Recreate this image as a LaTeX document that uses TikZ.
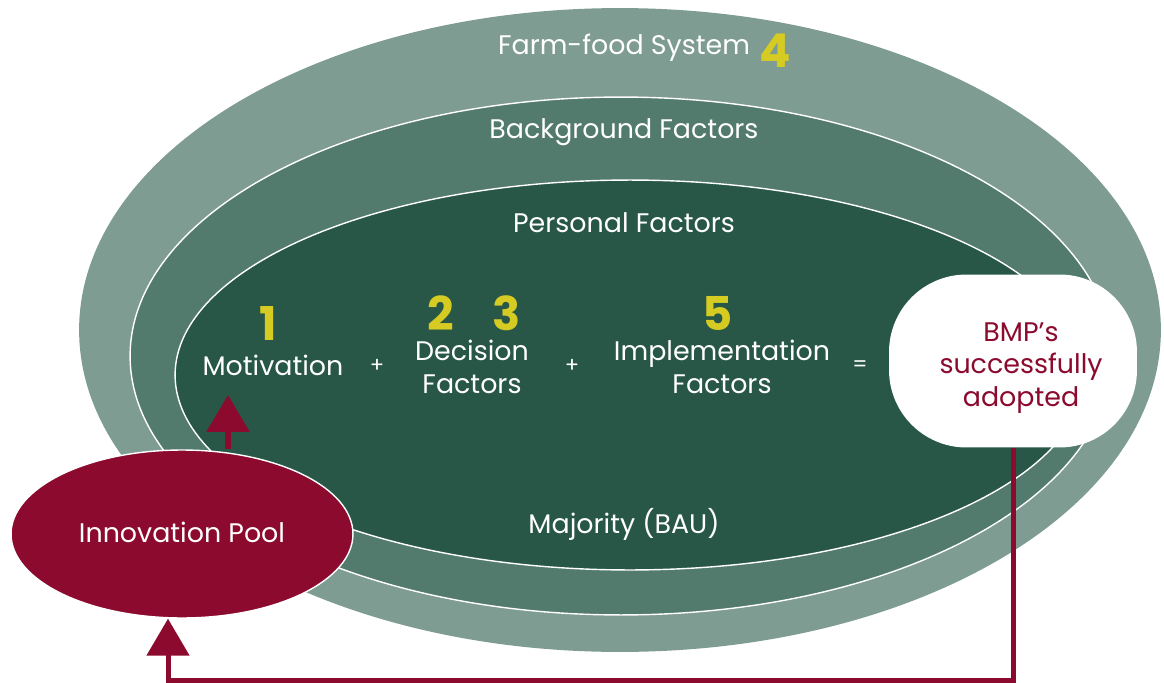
\documentclass[tikz,border=0pt]{standalone}
\usepackage{fontspec}
\setmainfont{Poppins}
\usepackage{xcolor}
\definecolor{FarmGreen}{HTML}{7E9C92}
\definecolor{BackGreen}{HTML}{527A6D}
\definecolor{PersGreen}{HTML}{285747}
\definecolor{Maroon}{HTML}{8B0A2E}
\definecolor{Gold}{HTML}{D6CB22}
\usepackage{tikz}
\usetikzlibrary{arrows.meta, shapes.geometric}
\tikzset{
  ring/.style={ellipse, inner sep=0pt, draw=white, line width=0.8pt},
  lbl/.style={text=white, font=\fontsize{15.3}{18.5}\selectfont, align=center, inner sep=0pt},
  num/.style={text=Gold, font=\fontsize{26.5}{30}\selectfont\bfseries, inner sep=0pt},
  opr/.style={text=white, font=\fontsize{12}{14}\selectfont, inner sep=0pt},
  upArr/.style={-{Triangle[width=0.84cm, length=0.74cm]}, line width=0.12cm, color=Maroon},
  loopArr/.style={-{Triangle[width=0.84cm, length=0.74cm]}, line width=0.1cm, color=Maroon},
}

\begin{document}
\begin{tikzpicture}[x=0.02cm, y=-0.02cm]

% page frame, pixel grid of the original
\useasboundingbox (0,0) rectangle (1164,683);

% nested ellipses, outermost first
\node[ring, fill=FarmGreen, draw=none, minimum width=21.64cm, minimum height=12.88cm] at (620,330) (farm) {};
\node[ring, fill=BackGreen, minimum width=19.64cm, minimum height=10.36cm] at (621,356) (background) {};
\node[ring, fill=PersGreen, minimum width=18.2cm, minimum height=7.8cm] at (630,375) (personal) {};

\node[lbl] at (624,48) (farmlbl) {Farm-food System};
\node[num] at (775,51) (n4) {4};
\node[lbl] at (624,132) (bglbl) {Background Factors};
\node[lbl] at (624,223) (perslbl) {Personal Factors};
\node[lbl] at (624,524) (major) {Majority (BAU)};

% the sum inside the personal ellipse
\node[num] at (268,324) (n1) {1};
\node[lbl] at (273,365) (motiv) {Motivation};
\node[opr] at (377,366) (plusA) {+};
\node[num] at (441,313) (n2) {2};
\node[num] at (507,313) (n3) {3};
\node[lbl] at (472,367) (decision) {Decision\\Factors};
\node[opr] at (572,366) (plusB) {+};
\node[num] at (718,313) (n5) {5};
\node[lbl] at (722,367) (implem) {Implementation\\Factors};
\node[opr] at (860,366) (equals) {=};

\node[rectangle, rounded corners=1.55cm, fill=white, minimum width=4.96cm, minimum height=3.46cm] at (1013,361) (bmp) {};
\node[text=Maroon, font=\fontsize{15.3}{18.3}\selectfont, align=center, inner sep=0pt] at (1021,368) (bmptxt) {BMP’s\\successfully\\adopted};

\node[ellipse, fill=Maroon, draw=white, line width=0.8pt, inner sep=0pt, minimum width=6.84cm, minimum height=3.36cm,
  text=white, font=\fontsize{15.3}{18.5}\selectfont] at (182,534) (pool) {\raisebox{2pt}{Innovation Pool}};

% feedback arrows
\coordinate (mtip) at (228,395);
\coordinate (back) at (168,680);
\draw[upArr] (mtip |- pool.north) -- (mtip);
\draw[loopArr] (bmp.south) |- (back) -- (back |- pool.south);

\end{tikzpicture}
\end{document}
